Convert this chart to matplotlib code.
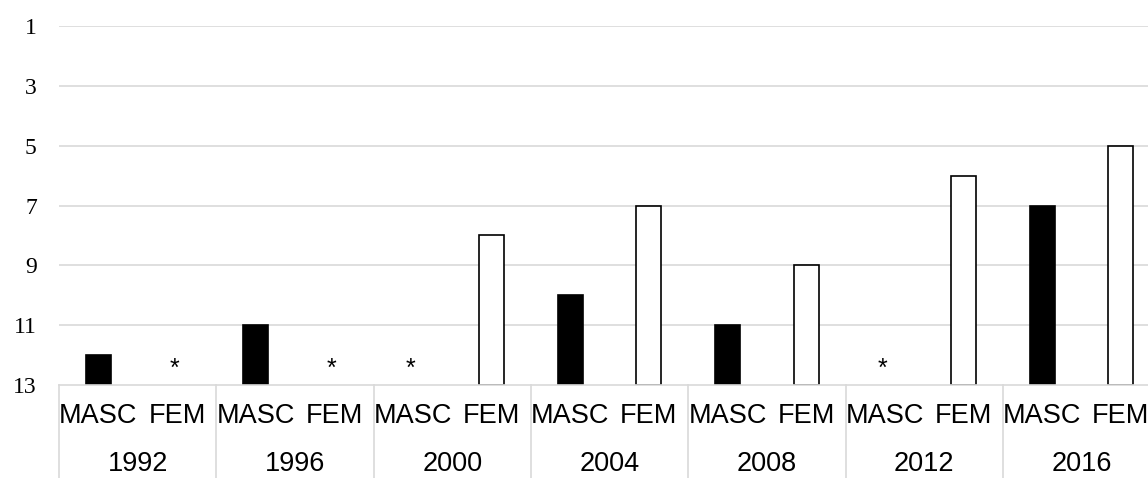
import numpy as np
import matplotlib
matplotlib.use("Agg")
from matplotlib import pyplot as plt
from matplotlib import transforms

years = ["1992", "1996", "2000", "2004", "2008", "2012", "2016"]
genders = ["MASC", "FEM"]
# rank per year, None = no placing (shown as *)
masc = [12, 11, None, 10, 11, None, 7]
fem = [None, None, 8, 7, 9, 6, 5]

W, H = 1148, 478
fig = plt.figure(figsize=(W / 100, H / 100), dpi=100)
left, right = 59 / W, (59 + 7 * 157.3) / W
bottom, top = (H - 385) / H, (H - 26) / H
ax = fig.add_axes([left, bottom, right - left, top - bottom])

grid_col = "#d9d9d9"
n = len(years) * 2
ax.set_xlim(-0.5, n - 0.5)
ax.set_ylim(13, 1)
ax.set_yticks([1, 3, 5, 7, 9, 11, 13])
ax.set_yticklabels(["1", "3", "5", "7", "9", "11", "13"],
                   fontfamily="Liberation Serif", fontsize=17)
ax.tick_params(axis="y", length=0, pad=16)
ax.set_xticks([])
for s in ["top", "right", "left"]:
    ax.spines[s].set_visible(False)
ax.spines["bottom"].set_color(grid_col)
ax.spines["bottom"].set_linewidth(1.2)
for yv in [1, 3, 5, 7, 9, 11]:
    ax.axhline(yv, color=grid_col, lw=1.2, zorder=0)

bw = 0.32
trans = transforms.blended_transform_factory(ax.transData, ax.transAxes)
for i, yr in enumerate(years):
    xm, xf = 2 * i, 2 * i + 1
    for x, v, fc in [(xm, masc[i], "black"), (xf, fem[i], "white")]:
        if v is None:
            ax.text(x - 0.03, 12.7, "*", ha="center", va="baseline",
                    fontfamily="Liberation Sans", fontsize=18)
        else:
            ax.bar(x, 13 - v, bottom=v, width=bw, color=fc,
                   edgecolor="black", linewidth=1.2, zorder=1)
    ax.text(xm, -0.085, "MASC", transform=trans, ha="center", va="center",
            fontfamily="Liberation Sans", fontsize=19.5)
    ax.text(xf, -0.085, "FEM", transform=trans, ha="center", va="center",
            fontfamily="Liberation Sans", fontsize=19.5)
    ax.text(xm + 0.5, -0.22, yr, transform=trans, ha="center", va="center",
            fontfamily="Liberation Sans", fontsize=19.5)

for k in range(len(years) + 1):
    ax.plot([2 * k - 0.5, 2 * k - 0.5], [0, -0.4], transform=trans,
            color=grid_col, lw=1.2, clip_on=False)

fig.savefig("out.png", dpi=100)
